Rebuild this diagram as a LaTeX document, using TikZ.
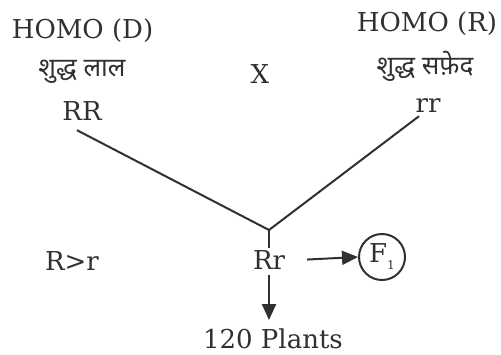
\documentclass[tikz,border=0pt]{standalone}
\usepackage{fontspec}
\setmainfont{DejaVu Serif}
\newfontfamily\devfont[Script=Devanagari]{Noto Sans}
\usetikzlibrary{positioning, arrows.meta, calc}
\definecolor{inkgray}{HTML}{303030}
\tikzset{
    gtext/.style={inner sep=2pt, text=inkgray, font=\fontsize{26}{30}\selectfont, anchor=base},
    htext/.style={inner sep=2pt, text=inkgray, font=\devfont\fontsize{26}{30}\selectfont},
    gline/.style={draw=inkgray, line width=2pt},
    garrow/.style={gline, -{Triangle[length=16pt, width=14pt]}},
    gcircle/.style={draw=inkgray, line width=2pt, circle, minimum size=46pt, inner sep=0pt, text=inkgray, font=\fontsize{26}{30}\selectfont},
}

\begin{document}
\begin{tikzpicture}[x=1pt, y=-1pt]
        \useasboundingbox (0,0) rectangle (501,354);
        % parents
        \node[gtext] (homoD) at (82.5,38)  {HOMO (D)};
        \node[htext] (lalD)  at (82,72)    {शुद्ध लाल};
        \node[gtext] (RR)    at (82,120)   {RR};
        \node[gtext] (cross) at (260,83)   {X};
        \node[gtext] (homoR) at (427,31)   {HOMO (R)};
        \node[htext] (safedR) at (425,66)  {शुद्ध सफ़ेद};
        \node[gtext] (rr)    at (428,112)  {rr};
        % offspring
        \coordinate (vtx) at (269,230);
        \node[gtext] (Rr)    at (269,269)  {Rr};
        \node[gtext] (dom)   at (72,270)   {R>r};
        \node[gcircle] (F1)  at (382,257)  {F\raisebox{-7pt}{\fontsize{12}{12}\selectfont 1}};
        \node[gtext] (plants) at (273,348) {120 Plants};
        \draw[gline] ([xshift=-5pt, yshift=-8pt]RR.south) -- (vtx);
        \draw[gline] ([xshift=-9pt, yshift=-2pt]rr.south) -- (vtx);
        \draw[gline] (vtx) -- (Rr.north);
        \draw[garrow] ([xshift=20pt]Rr.east) -- (F1.west);
        \draw[garrow] ([yshift=-4pt]Rr.south) -- ([yshift=6pt]Rr.south |- plants.north);
    \end{tikzpicture}
\end{document}
